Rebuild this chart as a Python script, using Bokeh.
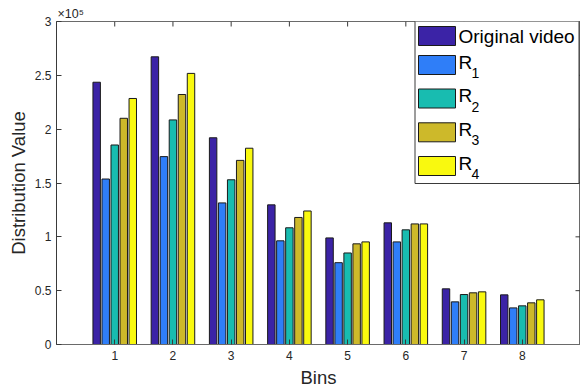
import math
from bokeh.plotting import figure
from bokeh.models import Range1d, FixedTicker, Label, BoxAnnotation, ColumnDataSource
from bokeh.transform import dodge
from bokeh.embed import file_html
from bokeh.resources import INLINE

# ---------------- data ----------------
bins = [1, 2, 3, 4, 5, 6, 7, 8]
original_video = [2.436e5, 2.672e5, 1.92e5, 1.297e5, 0.99e5, 1.13e5, 0.517e5, 0.461e5]
r1 = [1.537e5, 1.745e5, 1.315e5, 0.963e5, 0.76e5, 0.953e5, 0.396e5, 0.34e5]
r2 = [1.853e5, 2.086e5, 1.53e5, 1.084e5, 0.85e5, 1.065e5, 0.464e5, 0.359e5]
r3 = [2.101e5, 2.322e5, 1.71e5, 1.18e5, 0.935e5, 1.12e5, 0.48e5, 0.387e5]
r4 = [2.285e5, 2.518e5, 1.823e5, 1.24e5, 0.953e5, 1.12e5, 0.489e5, 0.415e5]
series_names = ["Original video", "R", "R", "R", "R"]
series_subs = ["", "1", "2", "3", "4"]
y_ticks = [0, 50000, 100000, 150000, 200000, 250000, 300000]
y_tick_labels = ["0", "0.5", "1", "1.5", "2", "2.5", "3"]
x_ticks = bins
X_MAX, Y_MAX = 9, 300000
multiplier = "×10⁵"

colors = ["#3B23A6", "#2F7EF8", "#18BCB0", "#CDB92A", "#F9F90F"]
FONT = "Liberation Sans"
TXT = "#262626"

p = figure(width=580, height=390, output_backend="svg", toolbar_location=None,
           x_range=Range1d(0, X_MAX), y_range=Range1d(0, Y_MAX),
           min_border_left=56, min_border_right=0, min_border_top=21, min_border_bottom=46)
p.background_fill_color = "white"
p.border_fill_color = "white"
p.grid.visible = False
p.outline_line_color = "#6a6a6a"
p.outline_line_width = 1

# axis multiplier shown as the (left-aligned) title
p.title.text = multiplier
p.title.align = "left"
p.title.offset = 1
p.title.standoff = 2
p.title.text_font = FONT
p.title.text_font_size = "12.5px"
p.title.text_font_style = "normal"
p.title.text_color = TXT

src = ColumnDataSource(dict(bins=bins, s0=original_video, s1=r1, s2=r2, s3=r3, s4=r4))
offsets = [-0.31, -0.155, 0.0, 0.155, 0.31]
for i, key in enumerate(["s0", "s1", "s2", "s3", "s4"]):
    p.vbar(x=dodge("bins", offsets[i], range=p.x_range), top=key, width=0.128, bottom=0,
           source=src, fill_color=colors[i], line_color="#1a1a1a", line_width=1)

# axes
xa = p.xaxis[0]
xa.ticker = FixedTicker(ticks=x_ticks)
xa.axis_label = "Bins"
ya = p.yaxis[0]
ya.ticker = FixedTicker(ticks=y_ticks)
ya.major_label_overrides = {t: l for t, l in zip(y_ticks, y_tick_labels)}
ya.axis_label = "Distribution Value"
for ax in (xa, ya):
    ax.major_tick_in = 5
    ax.major_tick_out = 0
    ax.minor_tick_line_color = None
    ax.axis_line_color = "#3a3a3a"
    ax.major_tick_line_color = "#3a3a3a"
    ax.major_label_text_font = FONT
    ax.major_label_text_font_size = "12px"
    ax.major_label_text_color = TXT
    ax.axis_label_text_font = FONT
    ax.axis_label_text_font_size = "18.5px"
    ax.axis_label_text_font_style = "normal"
    ax.axis_label_text_color = TXT
xa.major_label_standoff = 6
xa.axis_label_standoff = 4
ya.major_label_standoff = 5
ya.axis_label_standoff = 3
xa.axis_line_color = "#6a6a6a"

# mirrored ticks on top and right (inward), drawn from the tick lists
p.ray(x=x_ticks, y=[Y_MAX] * len(x_ticks), length=5, length_units="screen",
      angle=-math.pi / 2, line_color="#3a3a3a", line_width=1)
p.ray(x=[X_MAX] * len(y_ticks), y=y_ticks, length=5, length_units="screen",
      angle=math.pi, line_color="#3a3a3a", line_width=1)

# helpers: image pixel -> frame screen coords (frame-relative, y up)
FL, FB = 57, 344
def fx(px):
    return px - FL
def fy(py):
    return FB - py

# legend (manual, to render subscripts)
p.add_layout(BoxAnnotation(left=fx(415.5), right=fx(579.5), top=fy(20.5), bottom=fy(183),
                           left_units="screen", right_units="screen",
                           top_units="screen", bottom_units="screen",
                           fill_color="white", fill_alpha=1.0,
                           line_color="#3a3a3a", line_width=1, line_alpha=1.0))
entry_y = [35.5, 64.5, 98, 131.8, 165.5]
for i in range(5):
    cy = entry_y[i]
    p.add_layout(BoxAnnotation(left=fx(419), right=fx(456), top=fy(cy - 9.5), bottom=fy(cy + 9.5),
                               left_units="screen", right_units="screen",
                               top_units="screen", bottom_units="screen",
                               fill_color=colors[i], fill_alpha=1.0,
                               line_color="#1a1a1a", line_width=1, line_alpha=1.0))
    if series_subs[i] == "":
        p.add_layout(Label(x=fx(459), y=fy(cy), x_units="screen", y_units="screen",
                           text=series_names[i], text_font=FONT, text_font_size="19px",
                           text_color="black", text_baseline="middle", text_align="left"))
    else:
        p.add_layout(Label(x=fx(459), y=fy(cy - 3), x_units="screen", y_units="screen",
                           text=series_names[i], text_font=FONT, text_font_size="19px",
                           text_color="black", text_baseline="middle", text_align="left"))
        p.add_layout(Label(x=fx(472), y=fy(cy + 8), x_units="screen", y_units="screen",
                           text=series_subs[i], text_font=FONT, text_font_size="14px",
                           text_color="black", text_baseline="middle", text_align="left"))

open("out.html", "w").write(file_html(p, INLINE))
